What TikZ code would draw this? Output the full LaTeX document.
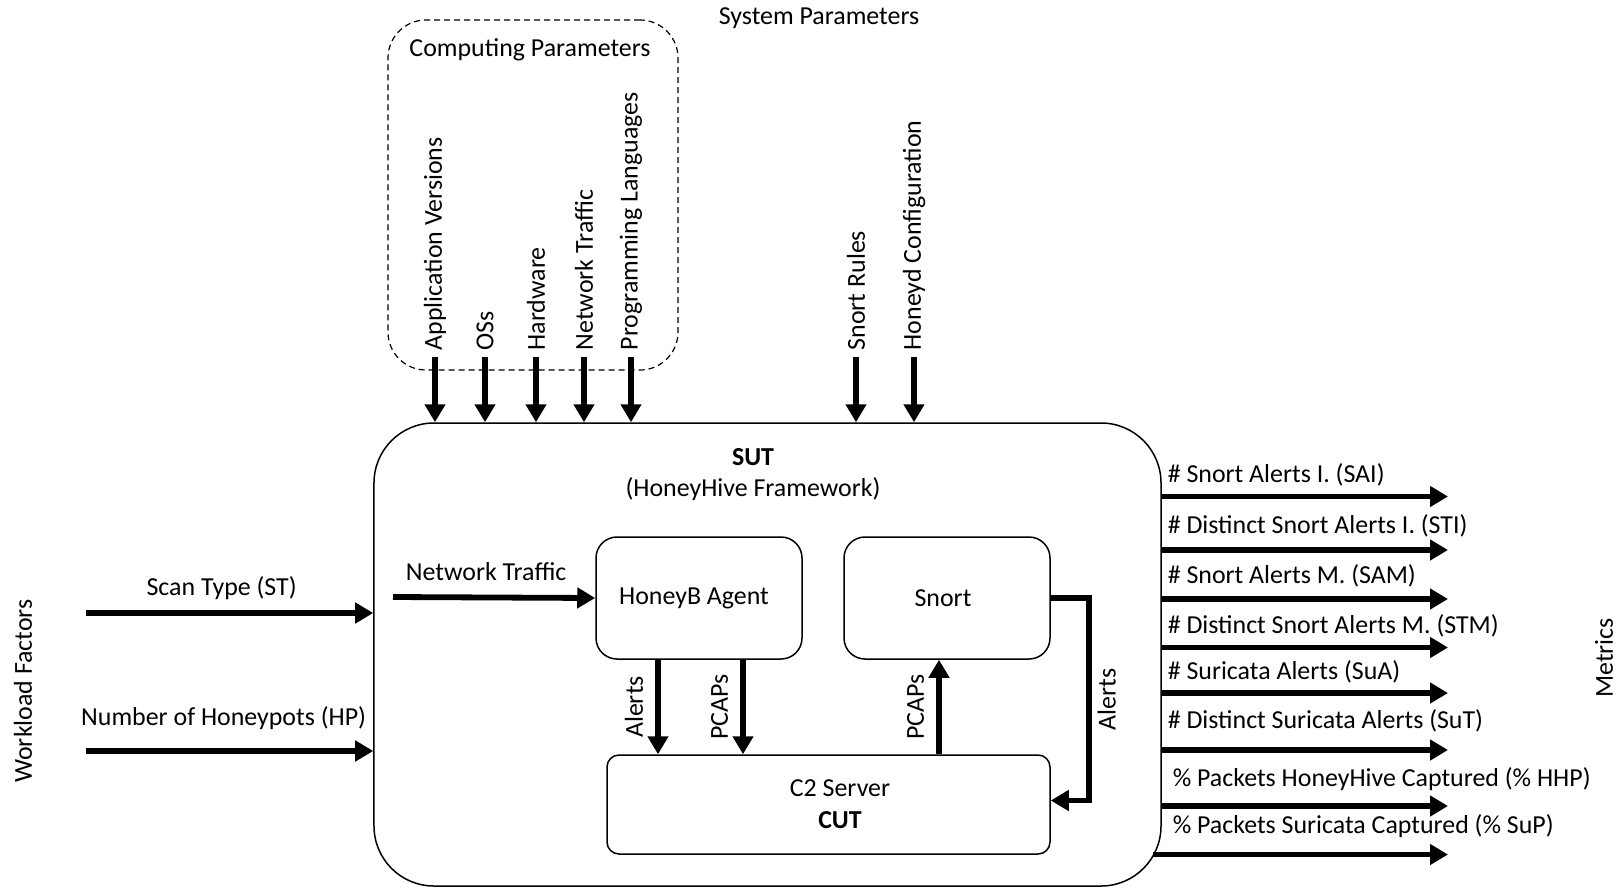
\documentclass[tikz,border=0pt]{standalone}
\usepackage{fontspec}
\setmainfont{Carlito}
\usetikzlibrary{arrows.meta, positioning}
\tikzset{
  every picture/.style={font=\fontsize{13}{15}\selectfont, line width=0.75bp},
  sutbox/.style={draw, rounded corners=30bp, minimum width=393.5bp, minimum height=231.5bp},
  compbox/.style={draw, rounded corners=10.5bp, align=center, minimum width=103bp, minimum height=61bp},
  groupbox/.style={draw, dashed, dash pattern=on 3bp off 2bp, line width=0.6bp, rounded corners=19bp},
  arrow/.style={-{Triangle[length=9bp, width=10bp]}, line width=2.9bp},
  vlabel/.style={rotate=90, inner sep=3bp},
  param/.style={rotate=90, anchor=west, inner sep=0pt},
  metric/.style={anchor=west, inner sep=0pt},
}
\begin{document}
\begin{tikzpicture}[x=0.5bp, y=-0.5bp]
  \useasboundingbox (0,0) rectangle (1622,890);
  \node (sysp) at (819,18) {System Parameters};
  \node[groupbox, minimum width=145bp, minimum height=175bp] (comp) at (533,195) {};
  \node (comptitle) at (530,50) {Computing Parameters};
  \node[sutbox] (sut) at (767.5,654.5) {};
  \node[font=\fontsize{13}{15}\selectfont\bfseries] (suttitle) at (753,457) {SUT};
  \node (sutname) at (753,489) {(HoneyHive Framework)};
  \node[compbox] (agent) at (699,598) {};
  \node (agenttext) at (694,598) {HoneyB Agent};
  \node[compbox] (snort) at (947,598) {};
  \node (snorttext) at (943,598) {Snort};
  \node[compbox, rounded corners=6bp, minimum width=221.5bp, minimum height=49.5bp] (c2) at (828.5,804.5) {};
  \node[align=center] (c2text) at (840,804.5) {C2 Server\\[1bp]\textbf{CUT}};
  \foreach \x/\txt/\n in {435/Application Versions/appv, 485/OSs/oss, 536/Hardware/hw, 584/Network Traffic/ntp, 631/Programming Languages/pl, 856/Snort Rules/sr, 914/Honeyd Configuration/hc} {
    \coordinate (\n) at (\x,357);
    \node[param] (\n-l) at (\x,351) {\txt};
    \draw[arrow] (\n) -- (\n |- sut.north);
  }
  \coordinate (stin) at (86,613);
  \coordinate (hpin) at (86,751);
  \draw[arrow] (stin) -- node[above=2bp, xshift=-4bp] (stl) {Scan Type (ST)} (stin -| sut.west);
  \draw[arrow] (hpin) -- node[above=6bp, xshift=-3bp] (hpl) {Number of Honeypots (HP)} (hpin -| sut.west);
  \node[vlabel] (wf) at (23,691) {Workload Factors};
  \coordinate (ntin) at (393,597);
  \draw[arrow] (ntin) -- node[above=3.5bp, xshift=-4bp] (ntl) {Network Traffic} (agent.west);
  \draw[arrow] ([xshift=-20.5bp]agent.south) -- node[vlabel, anchor=south, inner sep=6bp] (al1) {Alerts} ([xshift=-20.5bp]agent.south |- c2.north);
  \draw[arrow] ([xshift=22bp]agent.south) -- node[vlabel, anchor=south, inner sep=6bp] (pc1) {PCAPs} ([xshift=22bp]agent.south |- c2.north);
  \draw[arrow] ([xshift=-4bp]c2.north -| snort.south) -- node[vlabel, anchor=south, inner sep=6bp] (pc2) {PCAPs} ([xshift=-4bp]snort.south);
  \draw[arrow] (snort.east) -- ++(38,0) |- node[vlabel, pos=0.25, anchor=north, inner sep=3bp] (al2) {Alerts} ([yshift=2bp]c2.east);
  \foreach \i/\sx/\y/\ly/\lx/\txt in {1/0/496.5/475/1167/\# Snort Alerts I. (SAI), 2/0/550/525.5/1167/\# Distinct Snort Alerts I. (STI), 3/0/599/576/1167/\# Snort Alerts M. (SAM), 4/0/647.5/626/1167/\# Distinct Snort Alerts M. (STM), 5/0/693/672/1167/\# Suricata Alerts (SuA), 6/0/750/721/1167/\# Distinct Suricata Alerts (SuT), 7/0/806/779/1172/\% Packets HoneyHive Captured (\% HHP), 8/-4.5/854.5/826.5/1172/\% Packets Suricata Captured (\% SuP)} {
    \coordinate (m\i) at (1448,\y);
    \node[metric] (m\i-l) at (\lx,\ly) {\txt};
    \draw[arrow] ([xshift=\sx bp]sut.east |- m\i) -- (m\i);
  }
  \node[vlabel] (met) at (1604,658) {Metrics};
\end{tikzpicture}
\end{document}
